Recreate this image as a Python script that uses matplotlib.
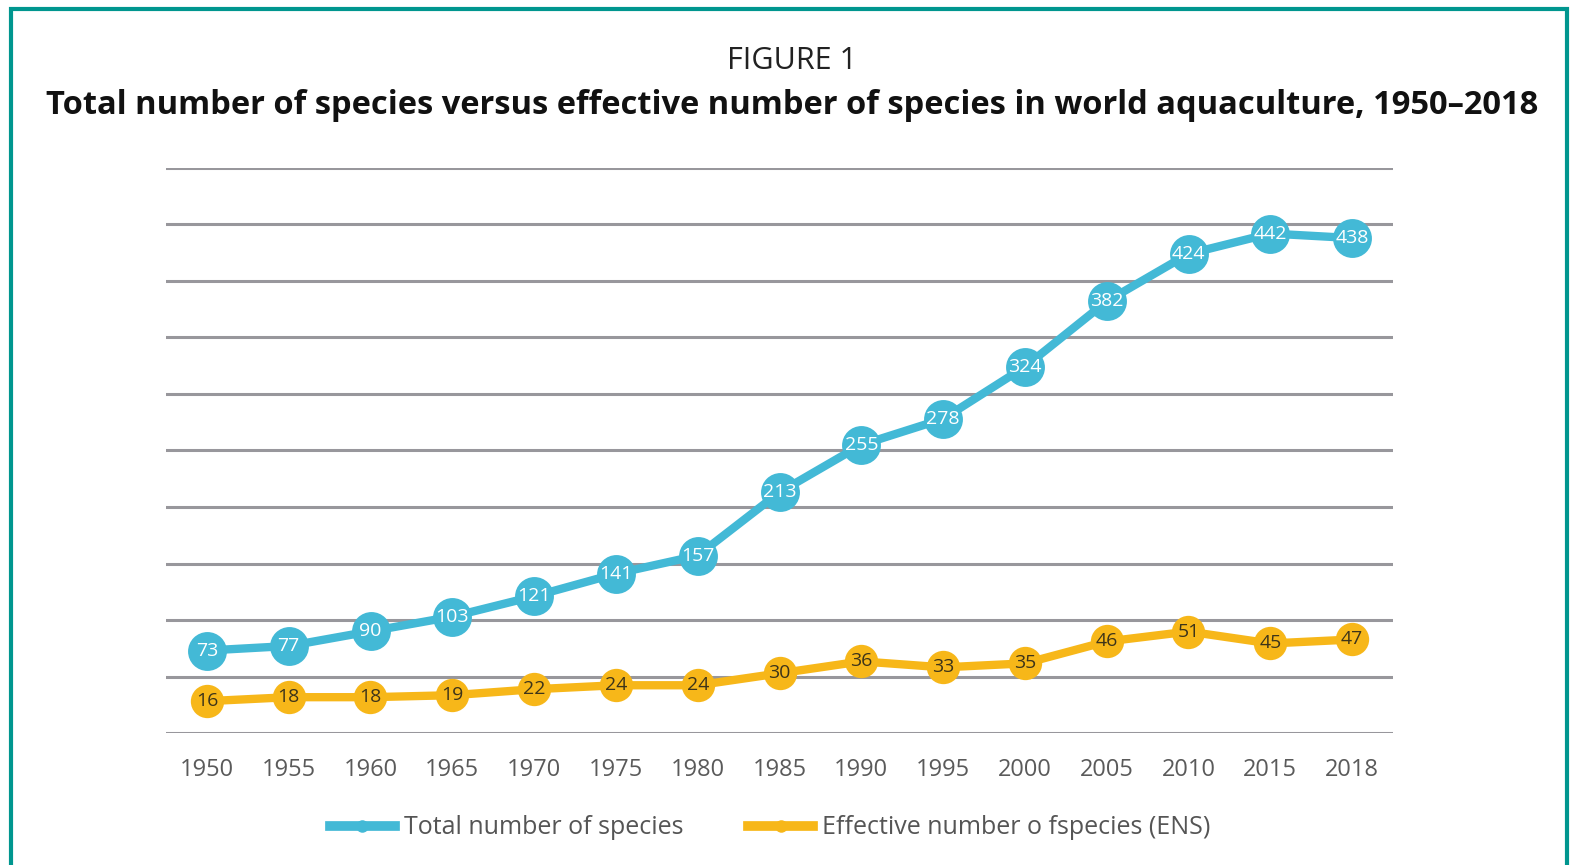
import matplotlib
matplotlib.use("Agg")
import matplotlib.pyplot as plt
from matplotlib.patches import Rectangle

years = ["1950", "1955", "1960", "1965", "1970", "1975", "1980", "1985",
         "1990", "1995", "2000", "2005", "2010", "2015", "2018"]
total_species = [73, 77, 90, 103, 121, 141, 157, 213, 255, 278, 324, 382, 424, 442, 438]
ens_species = [16, 18, 18, 19, 22, 24, 24, 30, 36, 33, 35, 46, 51, 45, 47]

BLUE = "#43B9D6"
ORANGE = "#F7B719"
GRID = "#98979C"
TEAL = "#00968F"

plt.rcParams["font.family"] = ["Open Sans", "DejaVu Sans"]

fig = plt.figure(figsize=(15.71, 8.65), dpi=100)

# teal frame round the figure (open at the bottom)
fig.patches.append(Rectangle((11 / 1571, -0.05), (1567 - 11) / 1571, 1.05 - 9 / 865,
                             transform=fig.transFigure, fill=False,
                             edgecolor=TEAL, linewidth=3))

fig.text(792 / 1571, 1 - 61 / 865, "FIGURE 1", ha="center", va="center",
         fontsize=22, color="#222222")
fig.text(792 / 1571, 1 - 105 / 865,
         "Total number of species versus effective number of species in world aquaculture, 1950\u20132018",
         ha="center", va="center", fontsize=23.5, fontweight="bold", color="#111111")

ax = fig.add_axes([166 / 1571, 1 - 733 / 865, (1393 - 166) / 1571, (733 - 168) / 865])
x = list(range(len(years)))

# total species on the main scale, ENS on its own hidden scale
ax.plot(x, total_species, color=BLUE, linewidth=6, marker="o", markersize=28,
        markeredgewidth=0, zorder=3)
for xi, v in zip(x, total_species):
    ax.text(xi, v, str(v), ha="center", va="center", fontsize=14,
            color="white", zorder=4)

ax2 = ax.twinx()
ax2.plot(x, ens_species, color=ORANGE, linewidth=6, marker="o", markersize=24,
         markeredgewidth=0, zorder=3)
for xi, v in zip(x, ens_species):
    ax2.text(xi, v, str(v), ha="center", va="center", fontsize=14,
             color="#3D3419", zorder=4)
ax2.set_ylim(0, 284)
ax2.set_yticks([])

ax.set_xlim(-0.5, len(years) - 0.5)
ax.set_ylim(0, 500)
ax.set_yticks(range(0, 501, 50))
ax.yaxis.grid(True, color=GRID, linewidth=2.2)
ax.set_axisbelow(True)
ax.tick_params(axis="y", left=False, labelleft=False)
ax.set_xticks(x)
ax.set_xticklabels(years, fontsize=17, color="#5A5A5A")
ax.tick_params(axis="x", length=0, pad=18)
for a in (ax, ax2):
    for s in a.spines.values():
        s.set_visible(False)

handles = [plt.Line2D([], [], color=BLUE, linewidth=7, marker="o", markersize=9,
                      markeredgewidth=0),
           plt.Line2D([], [], color=ORANGE, linewidth=7, marker="o", markersize=9,
                      markeredgewidth=0)]
fig.legend(handles, ["Total number of species", "Effective number o fspecies (ENS)"],
           loc="center", bbox_to_anchor=(770 / 1571, 1 - 828 / 865), ncol=2,
           frameon=False, fontsize=18, labelcolor="#555555", handlelength=2.6,
           columnspacing=2.6, handletextpad=0.35)

fig.savefig("out.png", dpi=100)
